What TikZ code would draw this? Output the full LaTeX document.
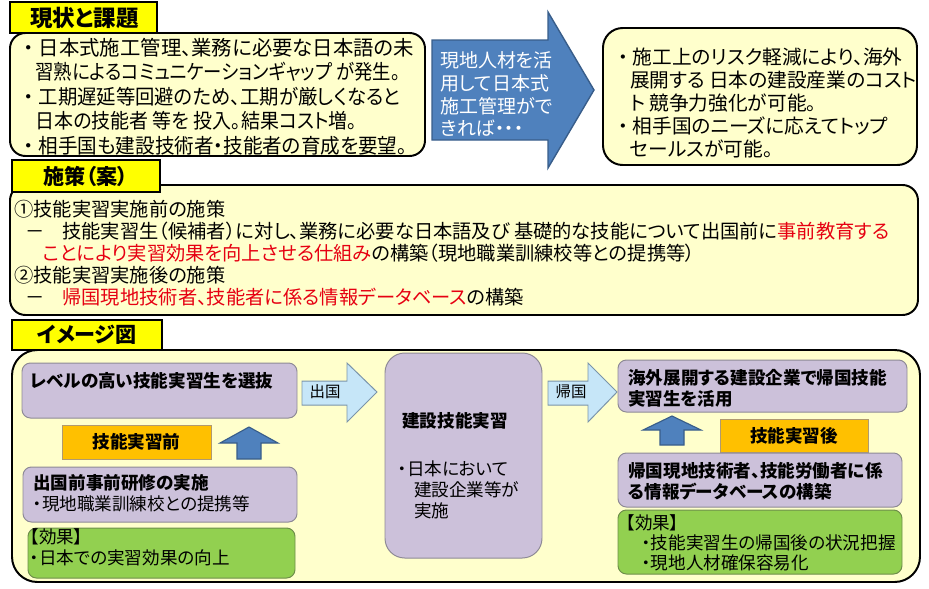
\documentclass[tikz,border=0pt]{standalone}
\usepackage{graphicx}
\usepackage{fontspec}
\setmainfont{Noto Sans CJK JP}[RawFeature=+palt]

\definecolor{amarillo}{HTML}{FFFF00}
\definecolor{crema}{HTML}{FFFFCC}
\definecolor{lila}{HTML}{CCC1DA}
\definecolor{lilaborde}{HTML}{8E8A96}
\definecolor{naranja}{HTML}{FFC000}
\definecolor{naranjaborde}{HTML}{B09A70}
\definecolor{verde}{HTML}{92D050}
\definecolor{verdeborde}{HTML}{6E8E4A}
\definecolor{celeste}{HTML}{C6E6F8}
\definecolor{celesteborde}{HTML}{7A94AA}
\definecolor{azul}{HTML}{4F81BD}
\definecolor{azulborde}{HTML}{385D8A}
\definecolor{rojo}{HTML}{E60012}

\newcommand{\punto}{\makebox[1em][c]{・}}
\newcommand{\sangria}{\hspace*{0.85em}}

\tikzset{
  etiqueta/.style={draw=black, line width=1.4pt, fill=amarillo},
  panel/.style={draw=black, line width=1.4pt, fill=crema},
  caja/.style={draw=lilaborde, line width=0.7pt, fill=lila, rounded corners=6pt},
  efecto/.style={draw=verdeborde, line width=0.7pt, fill=verde, rounded corners=6pt},
  fase/.style={draw=naranjaborde, line width=0.7pt, fill=naranja},
  salida/.style={draw=celesteborde, line width=0.7pt, fill=celeste},
  subida/.style={draw=azulborde, line width=0.8pt, fill=azul},
  texto/.style={anchor=north west, inner sep=0pt, align=left},
  grande/.style={font=\fontsize{14.5}{17.4}\selectfont},
  medio/.style={font=\fontsize{13.7}{15.6}\selectfont},
  normal/.style={font=\fontsize{12.5}{15}\selectfont},
  negrita/.style={font=\bfseries\fontsize{12.5}{15}\selectfont},
  titulo/.style={font=\bfseries\fontsize{15}{18}\selectfont},
}

\begin{document}
\begin{tikzpicture}[x=0.025cm, y=-0.025cm]
  \useasboundingbox (0,0) rectangle (929,588);

  % Situación actual y problemas
  \draw[panel, rounded corners=11pt] (10,33) rectangle (425,156);
  \draw[etiqueta] (10,2) rectangle (157,33);
  \node[titulo, font=\bfseries\fontsize{16}{18}\selectfont] (situacion) at (84.5,18) {現状と課題};
  \node[texto, grande] (problemas) at (18,38) {\punto 日本式施工管理、業務に必要な日本語の未\\
    \sangria\scalebox{0.9}[1]{習熟によるコミュニケーションギャップ が発生。}\\
    \punto\scalebox{0.95}[1]{工期遅延等回避のため、工期が厳しくなると}\\
    \sangria\scalebox{0.93}[1]{日本の技能者 等を 投入。結果コスト増。}\\
    \punto\scalebox{0.96}[1]{相手国も建設技術者・技能者の育成を要望。}};

  % Flecha central
  \draw[subida, line width=1pt] (432,40) -- (548,40) -- (548,12) -- (594,90)
    -- (548,168) -- (548,140) -- (432,140) -- cycle;
  \node[texto, text=white, font=\fontsize{13.5}{16.3}\selectfont] (condicion) at (440,51)
    {現地人材を活\\用して日本式\\施工管理がで\\きれば・・・};

  % Resultado esperado
  \draw[panel, rounded corners=14pt] (603,28) rectangle (917,165);
  \node[texto, font=\fontsize{14}{16.4}\selectfont] (efectos) at (613,47.5) {\punto 施工上のリスク軽減により、海外\\
    \sangria 展開する 日本の建設産業のコスト\\
    \sangria ト 競争力強化が可能。\\
    \punto 相手国のニーズに応えてトップ\\
    \sangria セールスが可能。};

  % Medidas propuestas
  \draw[panel, rounded corners=11pt] (10,185) rectangle (918,315);
  \draw[etiqueta] (12,160) rectangle (160,192);
  \node[titulo] (medidas) at (86,176) {施策（案）};
  \node[texto, medio] (propuesta) at (14,200) {①技能実習実施前の施策\\
    \hspace*{0.6em}\makebox[1.9em][l]{－}技能実習生（候補者）に対し、業務に必要な日本語及び 基礎的な技能について出国前に\textcolor{rojo}{事前教育する}\\
    \hspace*{1.5em}\textcolor{rojo}{ことにより実習効果を向上させる仕組み}の構築（現地職業訓練校等との提携等）\\
    ②技能実習実施後の施策\\
    \hspace*{0.6em}\makebox[1.9em][l]{－}\textcolor{rojo}{帰国現地技術者、技能者に係る情報データベース}の構築};

  % Imagen del esquema
  \draw[panel, rounded corners=18pt] (12,350) rectangle (920,582);
  \draw[etiqueta] (12,320) rectangle (162,350);
  \node[titulo] (imagen) at (87,335) {イメージ図};

  % Columna izquierda: antes de la práctica
  \draw[caja] (22,363) rectangle (297,418);
  \node[texto, negrita] (seleccion) at (30,372) {レベルの高い技能実習生を選抜};
  \draw[fase] (62,425) rectangle (211,459);
  \node[negrita] (antes) at (136.5,442) {技能実習前};
  \draw[subida] (237,459) -- (237,443) -- (220,443) -- (249,427) -- (278,443)
    -- (261,443) -- (261,459) -- cycle;
  \draw[caja] (23,467) rectangle (297,522);
  \node[texto, normal] (formacion) at (33,474) {\textbf{出国前事前研修の実施}\\・現地職業訓練校との提携等};
  \draw[efecto] (28,528) rectangle (295,578);
  \node[texto, normal] (efectoA) at (30,528) {【効果】\\・日本での実習効果の向上};

  % Salida del país
  \draw[salida] (302,381) -- (347,381) -- (347,363) -- (377,392) -- (347,422)
    -- (347,405) -- (302,405) -- cycle;
  \node[font=\fontsize{11}{13}\selectfont] (salidaT) at (325,392) {出国};

  % Práctica en Japón
  \draw[caja, rounded corners=14pt] (385,353) rectangle (542,558);
  \node[texto, negrita] (practica) at (402,412) {建設技能実習};
  \node[texto, normal] (lugar) at (398,460) {・日本において\\\hspace*{0.9em}建設企業等が\\\hspace*{0.9em}実施};

  % Regreso al país
  \draw[salida] (548,381) -- (588,381) -- (588,363) -- (617,392) -- (588,422)
    -- (588,405) -- (548,405) -- cycle;
  \node[font=\fontsize{11}{13}\selectfont] (regresoT) at (571,392) {帰国};

  % Columna derecha: después de la práctica
  \draw[caja] (618,360) rectangle (907,412);
  \node[texto, negrita] (empleo) at (628,369) {海外展開する建設企業で帰国技能\\実習生を活用};
  \draw[subida] (660,445) -- (660,430) -- (643,430) -- (672,416) -- (701,430)
    -- (684,430) -- (684,445) -- cycle;
  \draw[fase] (720,419) rectangle (868,452);
  \node[negrita] (despues) at (794,436) {技能実習後};
  \draw[caja] (618,453) rectangle (902,507);
  \node[texto, negrita] (base) at (628,462) {帰国現地技術者、技能労働者に係\\る情報データベースの構築};
  \draw[efecto] (618,510) rectangle (902,574);
  \node[texto, font=\fontsize{12.5}{14.2}\selectfont] (efectoB) at (626,514) {【効果】\\\hspace*{0.9em}・技能実習生の帰国後の状況把握\\\hspace*{0.9em}・現地人材確保容易化};
\end{tikzpicture}
\end{document}
